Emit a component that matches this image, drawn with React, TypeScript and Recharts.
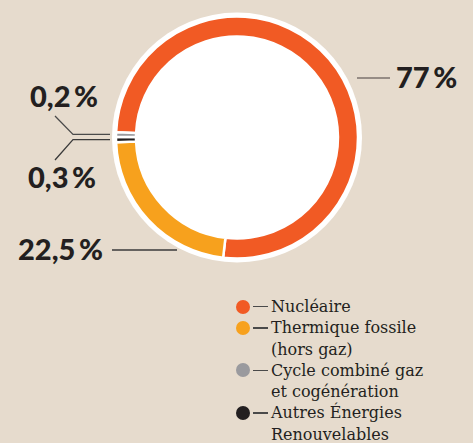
import { PieChart, Pie, Cell, Legend } from 'recharts'

// Legend order
const categories = [
  'Nucléaire',
  'Thermique fossile (hors gaz)',
  'Cycle combiné gaz et cogénération',
  'Autres Énergies Renouvelables',
]
const shares = [77, 22.5, 0.2, 0.3]
const colors = ['#F15A24', '#F7A11D', '#9A9A9E', '#231F20']
// order of the sectors clockwise around the ring
const pieOrder = [0, 1, 3, 2]

const W = 473
const H = 443
const CX = 237
const CY = 137.5
const RAD = Math.PI / 180
const INK = '#231F20'

// label placement relative to the donut centre (null y = follow the sector)
const labelLayout = [
  { points: [[120, -59.5], [153, -59.5]], text: [159, -49.5], line: '#7B726C' },
  { points: [[-60, 112.5], [-125, 112.5]], text: [-219, 122.5], line: '#3a3a3a' },
  { points: [[-127, null], [-164, null], [-182, -21.5]], text: [-207, -30.5], line: '#4a4a4a' },
  { points: [[-127, null], [-164, null], [-182, 22.5]], text: [-209, 50.5], line: '#3a3a3a' },
]

const formatShare = (v: number) => `${String(v).replace('.', ',')}\u2009%`

const pieData = pieOrder.map(i => ({ name: categories[i], value: shares[i], fill: colors[i] }))

function renderLabel(props: any) {
  const { cx, cy, midAngle, name, value } = props
  const i = categories.indexOf(name)
  const l = labelLayout[i]
  const sy = cy - 127 * Math.sin(midAngle * RAD)
  const pts = l.points.map(([dx, dy]) => `${cx + dx},${dy === null ? sy : cy + dy}`).join(' ')
  return (
    <g key={name}>
      <polyline points={pts} fill="none" stroke={l.line} strokeWidth={1.3} />
      <text
        x={cx + l.text[0]}
        y={cy + l.text[1]}
        fill={INK}
        style={{ fontFamily: 'Lato, sans-serif', fontWeight: 900, fontSize: 29 }}
      >
        {formatShare(value)}
      </text>
    </g>
  )
}

const LegendList = () => (
  <div style={{ fontFamily: '"DejaVu Serif", serif', fontSize: 16, lineHeight: '21.3px', color: INK }}>
    {categories.map((c, i) => (
      <div key={c} style={{ display: 'flex', alignItems: 'flex-start' }}>
        <span style={{ width: 14, height: 14, borderRadius: 7, background: colors[i], marginTop: 3.6, flex: 'none' }} />
        <span style={{ width: 15, height: 1.4, background: '#4a4a4a', marginTop: 10, marginLeft: 3, marginRight: 3, flex: 'none' }} />
        <span style={{ width: 168 }}>{c}</span>
      </div>
    ))}
  </div>
)

export default function App() {
  return (
    <div style={{ position: 'absolute', left: 0, top: 0, width: W, height: H, background: '#E6DBCD', overflow: 'hidden' }}>
      <PieChart width={W} height={H} margin={{ top: 0, right: 0, bottom: 0, left: 0 }}>
        <circle cx={CX} cy={CY} r={125} fill="#ffffff" />
        <Pie
          data={pieData}
          dataKey="value"
          nameKey="name"
          cx={CX}
          cy={CY}
          innerRadius={101}
          outerRadius={121}
          startAngle={177.5}
          endAngle={-182.5}
          minAngle={1.5}
          stroke="#ffffff"
          strokeWidth={2.5}
          label={renderLabel}
          labelLine={false}
          isAnimationActive={false}
        >
          {pieData.map(d => (
            <Cell key={d.name} fill={d.fill} />
          ))}
        </Pie>
        <Legend
          content={() => <LegendList />}
          wrapperStyle={{ left: 236, top: 296, bottom: 'auto', width: 230 }}
        />
      </PieChart>
    </div>
  )
}
